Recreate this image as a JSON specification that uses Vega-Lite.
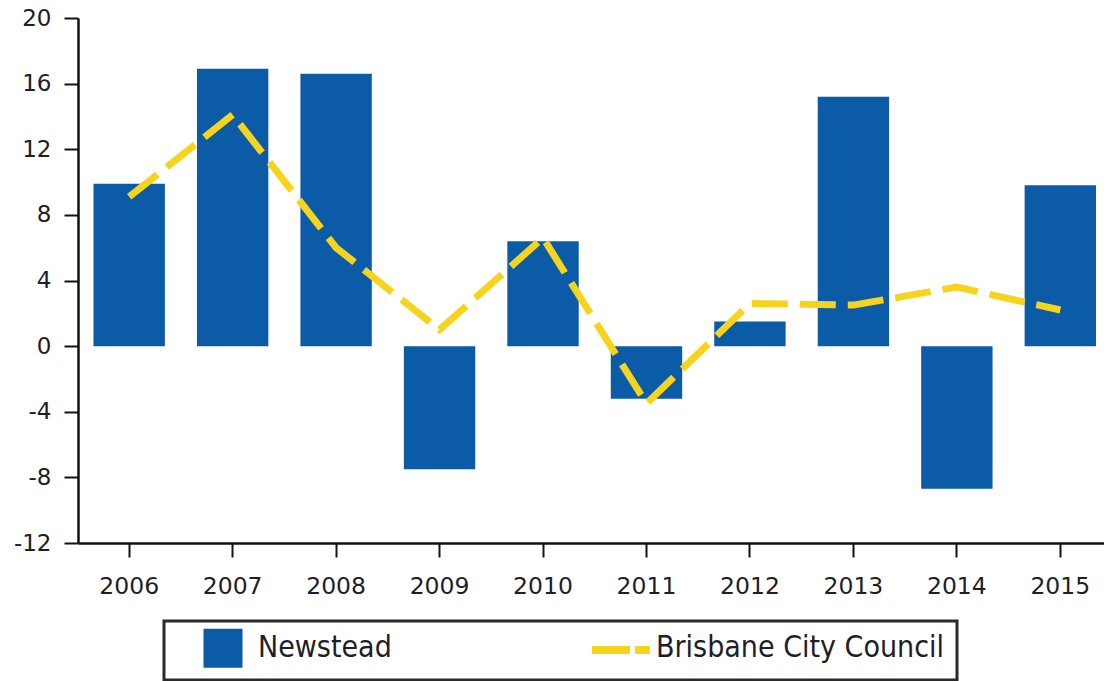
{
  "$schema": "https://vega.github.io/schema/vega-lite/v6.json",
  "autosize": {"type": "none"},
  "width": 1026,
  "height": 525,
  "padding": {"left": 78, "top": 18, "right": 0, "bottom": 138},
  "background": "white",
  "data": {
    "values": [
      {"year": "2006", "series": "Newstead", "value": 9.9},
      {"year": "2007", "series": "Newstead", "value": 16.9},
      {"year": "2008", "series": "Newstead", "value": 16.6},
      {"year": "2009", "series": "Newstead", "value": -7.5},
      {"year": "2010", "series": "Newstead", "value": 6.4},
      {"year": "2011", "series": "Newstead", "value": -3.2},
      {"year": "2012", "series": "Newstead", "value": 1.5},
      {"year": "2013", "series": "Newstead", "value": 15.2},
      {"year": "2014", "series": "Newstead", "value": -8.7},
      {"year": "2015", "series": "Newstead", "value": 9.8},
      {"year": "2006", "series": "Brisbane City Council", "value": 9.1},
      {"year": "2007", "series": "Brisbane City Council", "value": 14.1},
      {"year": "2008", "series": "Brisbane City Council", "value": 6.0},
      {"year": "2009", "series": "Brisbane City Council", "value": 1.0},
      {"year": "2010", "series": "Brisbane City Council", "value": 6.6},
      {"year": "2011", "series": "Brisbane City Council", "value": -3.5},
      {"year": "2012", "series": "Brisbane City Council", "value": 2.6},
      {"year": "2013", "series": "Brisbane City Council", "value": 2.5},
      {"year": "2014", "series": "Brisbane City Council", "value": 3.6},
      {"year": "2015", "series": "Brisbane City Council", "value": 2.2}
    ]
  },
  "encoding": {
    "x": {
      "field": "year",
      "type": "ordinal",
      "title": null,
      "scale": {"paddingInner": 0.31, "paddingOuter": 0.1135, "align": 0.66},
      "axis": {
        "labelAngle": 0,
        "labelFont": "DejaVu Sans",
        "labelFontSize": 23.5,
        "labelColor": "#1e1e28",
        "labelPadding": 17,
        "tickSize": 14,
        "tickWidth": 2,
        "tickColor": "#111",
        "domainColor": "#111",
        "domainWidth": 2.5
      }
    },
    "y": {
      "field": "value",
      "type": "quantitative",
      "title": null,
      "scale": {"domain": [-12, 20], "nice": false, "zero": false},
      "axis": {
        "values": [-12, -8, -4, 0, 4, 8, 12, 16, 20],
        "labelExpr": "datum.value < 0 ? '-' + abs(datum.value) : '' + datum.value",
        "grid": false,
        "labelFont": "DejaVu Sans",
        "labelFontSize": 23,
        "labelColor": "#1e1e28",
        "labelPadding": 13,
        "tickSize": 14,
        "tickWidth": 2,
        "tickColor": "#111",
        "domainColor": "#111",
        "domainWidth": 2.5
      }
    },
    "color": {
      "field": "series",
      "type": "nominal",
      "scale": {
        "domain": ["Newstead", "Brisbane City Council"],
        "range": ["#0b5ba7", "#f6d41e"]
      },
      "legend": {
        "title": null,
        "orient": "none",
        "legendX": 86,
        "legendY": 603,
        "direction": "horizontal",
        "columns": 2,
        "columnPadding": 182,
        "padding": 12,
        "strokeColor": "#2a2a2a",
        "fillColor": "white",
        "symbolOffset": 32,
        "symbolSize": 1521,
        "labelOffset": 20,
        "labelFont": "DejaVu Sans Condensed, Liberation Sans, sans-serif",
        "labelFontSize": 30,
        "labelColor": "#1e1e28",
        "labelLimit": 400,
        "encode": {
          "symbols": {
            "update": {
              "shape": {"signal": "datum.value === 'Newstead' ? 'square' : 'stroke'"},
              "size": {"signal": "datum.value === 'Newstead' ? 1521 : 3364"},
              "fill": {"signal": "datum.value === 'Newstead' ? '#0b5ba7' : 'transparent'"},
              "stroke": {"signal": "datum.value === 'Newstead' ? 'transparent' : '#f6d41e'"},
              "strokeWidth": {"signal": "datum.value === 'Newstead' ? 0 : 8"},
              "strokeDash": {"signal": "datum.value === 'Newstead' ? [1, 0] : [38, 5]"},
              "opacity": {"value": 1},
              "fillOpacity": {"value": 1},
              "strokeOpacity": {"value": 1}
            }
          },
          "labels": {
            "update": {
              "dy": {"signal": "datum.value === 'Newstead' ? 0 : -2.5"}
            }
          }
        }
      }
    }
  },
  "layer": [
    {
      "transform": [{"filter": "datum.series === 'Newstead'"}],
      "mark": {"type": "bar", "opacity": 1}
    },
    {
      "transform": [{"filter": "datum.series === 'Brisbane City Council'"}],
      "mark": {"type": "line", "strokeWidth": 7, "strokeDash": [36, 12], "strokeCap": "butt"}
    }
  ],
  "config": {
    "view": {"stroke": null},
    "legend": {"strokeWidth": 3}
  }
}
